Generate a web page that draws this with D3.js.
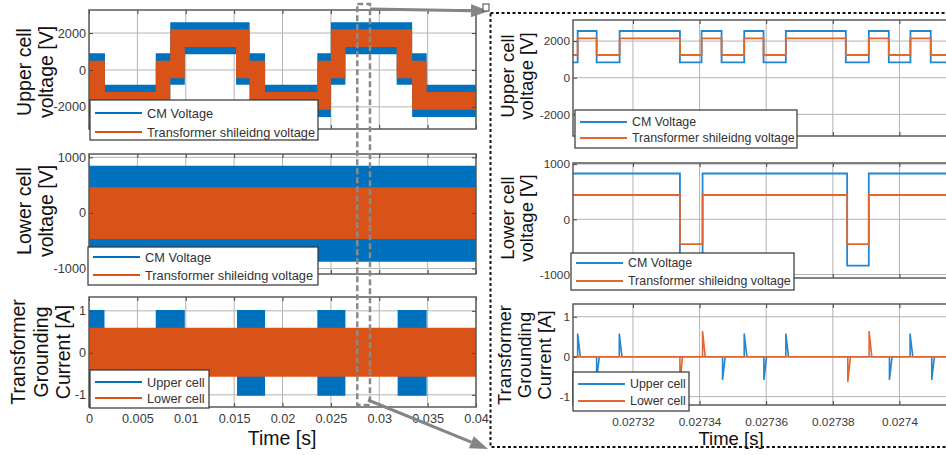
<!DOCTYPE html>
<html>
<head>
<meta charset="utf-8">
<script src="https://d3js.org/d3.v7.min.js"></script>
<style>
body{margin:0;background:#fff;}
svg{display:block;font-family:"Liberation Sans",Arial,sans-serif;}
</style>
</head>
<body>
<script>
// ---------------- data ----------------
// overview, time axis 0..0.04 s, switching envelopes of the upper cell
const ovT     = [0, 0.00165, 0.0069, 0.0084, 0.0099, 0.0152, 0.0166, 0.0182, 0.0236, 0.0250, 0.0265, 0.0318, 0.0334, 0.0349, 0.04];
const upCmHi  = [900, -800, 900, 2580, 2580, 2580, 900, -800, 900, 2580, 2580, 2580, 900, -800, -800];
const upCmLo  = [-2550, -2550, -2550, -800, 850, -800, -2550, -2550, -2550, -800, 850, -800, -2550, -2550, -2550];
const upShHi  = [500, -1200, 500, 2200, 2200, 2200, 500, -1200, 500, 2200, 2200, 2200, 500, -1200, -1200];
const upShLo  = [-2150, -2150, -2150, -450, 1250, -450, -2150, -2150, -2150, -450, 1250, -450, -2150, -2150, -2150];

// lower cell envelopes (constant band over the whole run)
const loT     = [0, 0.04];
const loCmHi  = [850, 850];
const loCmLo  = [-880, -880];
const loShHi  = [460, 460];
const loShLo  = [-470, -470];

// grounding current envelopes
const gT      = [0, 0.0016, 0.0069, 0.0099, 0.0153, 0.0182, 0.0236, 0.0265, 0.0319, 0.0349, 0.04];
const gUpHi   = [1.02, 0.55, 1.02, 0.55, 1.02, 0.55, 1.02, 0.55, 1.02, 0.55, 0.55];
const gUpLo   = [-1.02, -0.55, -1.02, -0.55, -1.02, -0.55, -1.02, -0.55, -1.02, -0.55, -0.55];
const gLoHi   = [0.6, 0.6];
const gLoLo   = [-0.57, -0.57];

// zoomed window
const zUpT    = [0.027302, 0.0273034, 0.0273091, 0.0273160, 0.0273341, 0.0273406, 0.0273466, 0.0273534, 0.0273592, 0.0273659, 0.0273839, 0.0273908, 0.0273968, 0.0274033, 0.0274094, 0.02745];
const zUpCm   = [840, 2550, 840, 2550, 840, 2550, 840, 2550, 840, 2550, 840, 2550, 840, 2550, 840, 840];
const zUpSh   = [1240, 2150, 1240, 2150, 1240, 2150, 1240, 2150, 1240, 2150, 1240, 2150, 1240, 2150, 1240, 1240];
const zLoT    = [0.027302, 0.0273341, 0.0273409, 0.0273843, 0.0273908, 0.02745];
const zLoCm   = [830, -840, 830, -840, 830, 830];
const zLoSh   = [440, -450, 440, -450, 440, 440];
const zUpSpkT = [0.0273034, 0.0273091, 0.0273159, 0.0273469, 0.0273534, 0.0273593, 0.0273659, 0.0273970, 0.0274032, 0.0274097];
const zUpSpkV = [0.57, -0.57, 0.57, -0.57, 0.57, -0.57, 0.57, -0.57, 0.57, -0.57];
const zLoSpkT = [0.0273341, 0.0273409, 0.0273845, 0.0273909];
const zLoSpkV = [-0.62, 0.63, -0.62, 0.63];
const spkTail = 0.0000008;

// ticks
const ovXTicks  = [0, 0.005, 0.01, 0.015, 0.02, 0.025, 0.03, 0.035, 0.04];
const ovXLabels = ["0", "0.005", "0.01", "0.015", "0.02", "0.025", "0.03", "0.035", "0.04"];
const zXTicks   = [0.02732, 0.02734, 0.02736, 0.02738, 0.0274];
const zXLabels  = ["0.02732", "0.02734", "0.02736", "0.02738", "0.0274"];
const vUpTicks  = [-2000, 0, 2000];
const vLoTicks  = [-1000, 0, 1000];
const iTicks    = [-1, 0, 1];
const zoomMarkT = [0.02773, 0.02904];

const voltLegend = ["CM Voltage", "Transformer shileidng voltage"];
const currLegend = ["Upper cell", "Lower cell"];

// ---------------- drawing ----------------
const blue = "#0072BD", orange = "#D95319";
const blueL = "#2586D0", orangeL = "#E2662F";
const W = 946, H = 455;

const svg = d3.select("body").append("svg").attr("width", W).attr("height", H);
svg.append("rect").attr("width", W).attr("height", H).attr("fill", "#fff");

let clipN = 0;
function Make_panel(p) {
  const x = d3.scaleLinear().domain(p.xd).range([p.x0, p.x1]);
  const y = d3.scaleLinear().domain(p.yd).range([p.y1, p.y0]);
  const id = "clip" + (clipN++);
  const g = svg.append("g");
  g.append("clipPath").attr("id", id).append("rect")
    .attr("x", p.x0).attr("y", p.y0).attr("width", p.x1 - p.x0).attr("height", p.y1 - p.y0);
  // grid
  const grid = g.append("g").attr("clip-path", `url(#${id})`)
    .attr("stroke", "#b4b4b4").attr("stroke-width", 1);
  p.xt.forEach(t => grid.append("line").attr("x1", x(t)).attr("x2", x(t)).attr("y1", p.y0).attr("y2", p.y1));
  p.yt.forEach(v => grid.append("line").attr("x1", p.x0).attr("x2", p.x1).attr("y1", y(v)).attr("y2", y(v)));
  const plot = g.append("g").attr("clip-path", `url(#${id})`);
  return {g, plot, x, y, p};
}

function Finish_panel(P) {
  const {g, x, y, p} = P;
  const fs = p.tickFs;
  // left axis with labels
  const ax = g.append("g").attr("transform", `translate(${p.x0},0)`)
    .call(d3.axisLeft(y).tickValues(p.yt).tickSize(-4).tickPadding(3).tickFormat(d => d < 0 ? "-" + Math.abs(d) : d));
  // right axis ticks
  const ar = g.append("g").attr("transform", `translate(${p.x1},0)`)
    .call(d3.axisRight(y).tickValues(p.yt).tickSize(-4).tickFormat(""));
  const at = g.append("g").attr("transform", `translate(0,${p.y0})`)
    .call(d3.axisTop(x).tickValues(p.xt).tickSize(-4).tickFormat(""));
  const ab = g.append("g").attr("transform", `translate(0,${p.y1})`)
    .call(d3.axisBottom(x).tickValues(p.xt).tickSize(-4).tickPadding(p.xPad || 7)
      .tickFormat((d, i) => p.showX ? p.xl[i] : ""));
  [ax, ar, at, ab].forEach(a => {
    a.select(".domain").remove();
    a.selectAll("line").attr("stroke", "#444");
    a.selectAll("text").attr("fill", "#3a3a3a").style("font-size", fs + "px")
      .style("font-family", '"Liberation Sans", Arial, sans-serif');
  });
  if (p.clipRight) ab.selectAll(".tick").filter(d => x(d) > W).remove();
  // box
  g.append("rect").attr("x", p.x0).attr("y", p.y0).attr("width", p.x1 - p.x0).attr("height", p.y1 - p.y0)
    .attr("fill", "none").attr("stroke", "#5a5a5a").attr("stroke-width", 1.5);
  // y label lines
  p.ylab.forEach((s, i) => {
    g.append("text").text(s)
      .attr("transform", `translate(${p.ylx[i]},${p.lyc}) rotate(-90)`)
      .attr("text-anchor", "middle").attr("fill", "#111")
      .style("font-size", p.labFs + "px");
  });
}

function Legend(x0, y0, w, h, names, colors, fs, rows) {
  const g = svg.append("g");
  g.append("rect").attr("x", x0).attr("y", y0).attr("width", w).attr("height", h)
    .attr("fill", "#fff").attr("stroke", "#333").attr("stroke-width", 1.2);
  names.forEach((n, i) => {
    g.append("line").attr("x1", x0 + 5).attr("x2", x0 + 52).attr("y1", rows[i]).attr("y2", rows[i])
      .attr("stroke", colors[i]).attr("stroke-width", 2);
    g.append("text").text(n).attr("x", x0 + 57).attr("y", rows[i] + fs * 0.36)
      .attr("fill", "#333").style("font-size", fs + "px");
  });
}

function Band(P, t, hi, lo, color) {
  const rows = t.map((d, i) => ({t: d, hi: hi[i], lo: lo[i]}));
  P.plot.append("path").datum(rows)
    .attr("fill", color).attr("stroke", "none")
    .attr("d", d3.area().curve(d3.curveStepAfter)
      .x(d => P.x(d.t)).y0(d => P.y(d.lo)).y1(d => P.y(d.hi)));
}

function Step_line(P, t, v, color) {
  const rows = t.map((d, i) => ({t: d, v: v[i]}));
  P.plot.append("path").datum(rows)
    .attr("fill", "none").attr("stroke", color).attr("stroke-width", 1.8)
    .attr("d", d3.line().curve(d3.curveStepAfter).x(d => P.x(d.t)).y(d => P.y(d.v)));
}

function Spikes(P, t, v, color) {
  const rows = [{t: P.p.xd[0], v: 0}];
  t.forEach((d, i) => { rows.push({t: d, v: 0}, {t: d, v: v[i]}, {t: d + spkTail, v: 0}); });
  rows.push({t: P.p.xd[1], v: 0});
  P.plot.append("path").datum(rows)
    .attr("fill", "none").attr("stroke", color).attr("stroke-width", 1.6).attr("stroke-linejoin", "round")
    .attr("d", d3.line().x(d => P.x(d.t)).y(d => P.y(d.v)));
}

// ---- left overview column ----
const L = {x0: 89, x1: 476, xd: [0, 0.04], xt: ovXTicks, xl: ovXLabels, tickFs: 12.7, labFs: 19.5};
const L1 = Make_panel({...L, y0: 10, y1: 129, yd: [-3200, 3250], yt: vUpTicks,
  ylab: ["Upper cell", "voltage [V]"], ylx: [31, 53], lyc: 72});
Band(L1, ovT, upCmHi, upCmLo, blue);
Band(L1, ovT, upShHi, upShLo, orange);
Finish_panel(L1);

const L2 = Make_panel({...L, y0: 154, y1: 274, yd: [-1100, 1060], yt: vLoTicks,
  ylab: ["Lower cell", "voltage [V]"], ylx: [31, 53], lyc: 211});
Band(L2, loT, loCmHi, loCmLo, blue);
Band(L2, loT, loShHi, loShLo, orange);
Finish_panel(L2);

const L3 = Make_panel({...L, y0: 297, y1: 407, yd: [-1.29, 1.33], yt: iTicks, showX: true, xPad: 7,
  ylab: ["Transformer", "Grounding", "Current [A]"], ylx: [25, 48, 70], lyc: 352});
Band(L3, gT, gUpHi, gUpLo, blue);
Band(L3, loT, gLoHi, gLoLo, orange);
Finish_panel(L3);

// ---- right zoom column ----
const R = {x0: 573, x1: 1066, xd: [0.027302, 0.02745], xt: zXTicks, xl: zXLabels, tickFs: 11.8, labFs: 18.5};
const R1 = Make_panel({...R, y0: 20, y1: 136, yd: [-3180, 3150], yt: vUpTicks,
  ylab: ["Upper cell", "voltage [V]"], ylx: [514, 533], lyc: 76});
Step_line(R1, zUpT, zUpCm, blueL);
Step_line(R1, zUpT, zUpSh, orangeL);
Finish_panel(R1);

const R2 = Make_panel({...R, y0: 163, y1: 278, yd: [-1063, 1020], yt: vLoTicks,
  ylab: ["Lower cell", "voltage [V]"], ylx: [514, 533], lyc: 218});
Step_line(R2, zLoT, zLoCm, blueL);
Step_line(R2, zLoT, zLoSh, orangeL);
Finish_panel(R2);

const R3 = Make_panel({...R, y0: 304, y1: 405, yd: [-1.21, 1.32], yt: iTicks, showX: true, xPad: 13,
  ylab: ["Transformer", "Grounding", "Current [A]"], ylx: [511, 531, 551], lyc: 355});
Spikes(R3, zUpSpkT, zUpSpkV, blueL);
Spikes(R3, zLoSpkT, zLoSpkV, orangeL);
Finish_panel(R3);

// x labels
svg.append("text").text("Time [s]").attr("x", 282).attr("y", 445).attr("text-anchor", "middle")
  .attr("fill", "#111").style("font-size", "19.5px");
svg.append("text").text("Time [s]").attr("x", 731).attr("y", 445).attr("text-anchor", "middle")
  .attr("fill", "#111").style("font-size", "18.5px");

// legends
Legend(90, 100, 228, 40, voltLegend, [blue, orange], 12.8, [113, 132]);
Legend(88, 247, 230, 38, voltLegend, [blue, orange], 12.8, [257, 275]);
Legend(90, 370, 119, 38, currLegend, [blue, orange], 12.8, [382, 398]);
Legend(575, 110, 222, 38, voltLegend, [blueL, orangeL], 12.4, [122, 138]);
Legend(571, 253, 223, 37, voltLegend, [blueL, orangeL], 12.4, [263, 281]);
Legend(573, 372, 116, 39, currLegend, [blueL, orangeL], 12.4, [384, 401]);

// ---- zoom annotation ----
const ann = svg.append("g");
const mx0 = L1.x(zoomMarkT[0]), mx1 = L1.x(zoomMarkT[1]);
ann.append("rect").attr("x", mx0).attr("y", 4).attr("width", mx1 - mx0).attr("height", 401)
  .attr("fill", "none").attr("stroke", "#8a8a8a").attr("stroke-width", 2.5).attr("stroke-dasharray", "6,3");

function Arrow(xa, ya, xb, yb) {
  const a = Math.atan2(yb - ya, xb - xa), len = 18, hw = 6.5;
  const bx = xb - len * Math.cos(a), by = yb - len * Math.sin(a);
  ann.append("line").attr("x1", xa).attr("y1", ya).attr("x2", bx).attr("y2", by)
    .attr("stroke", "#858585").attr("stroke-width", 3);
  ann.append("polygon").attr("fill", "#858585")
    .attr("points", [[xb, yb],
      [bx + hw * Math.sin(a), by - hw * Math.cos(a)],
      [bx - hw * Math.sin(a), by + hw * Math.cos(a)]].map(q => q.join(",")).join(" "));
}
Arrow(mx1, 9, 489, 11);
Arrow(mx1 - 2, 400, 488, 449);

ann.append("rect").attr("x", 490.5).attr("y", 13).attr("width", 500).attr("height", 434)
  .attr("fill", "none").attr("stroke", "#111").attr("stroke-width", 2).attr("stroke-dasharray", "3,2.5");
ann.append("rect").attr("x", 483).attr("y", 4).attr("width", 6).attr("height", 7)
  .attr("fill", "#fff").attr("stroke", "#444").attr("stroke-width", 1);
</script>
</body>
</html>
